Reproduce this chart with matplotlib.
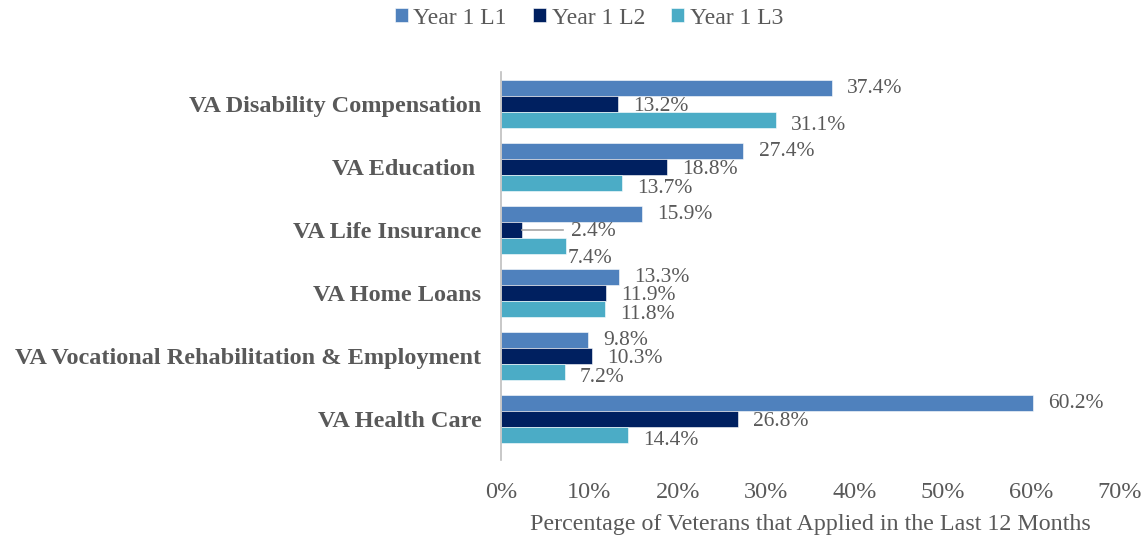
import numpy as np
import matplotlib
matplotlib.use("Agg")
import matplotlib.pyplot as plt
from matplotlib.ticker import FuncFormatter

plt.rcParams['font.family'] = ['Liberation Serif', 'DejaVu Serif']

categories = ['VA Disability Compensation', 'VA Education ', 'VA Life Insurance',
              'VA Home Loans', 'VA Vocational Rehabilitation & Employment', 'VA Health Care']
series = ['Year 1 L1', 'Year 1 L2', 'Year 1 L3']
l1 = [37.4, 27.4, 15.9, 13.3, 9.8, 60.2]
l2 = [13.2, 18.8, 2.4, 11.9, 10.3, 26.8]
l3 = [31.1, 13.7, 7.4, 11.8, 7.2, 14.4]
colors = ['#4F81BD', '#002060', '#4BACC6']
gray = '#595959'

fig = plt.figure(figsize=(11.45, 5.35), dpi=100)
ax = fig.add_axes([0.4376, 0.140, 0.5405, 0.7254])

n = len(categories)
y = np.arange(n)[::-1]
h = 0.254
vfs = 15.5
for i, (vals, c, name) in enumerate(zip([l1, l2, l3], colors, series)):
    pos = y + h * (1 - i)
    bars = ax.barh(pos, np.array(vals) / 100, height=h, color=c, label=name,
                   edgecolor='white', linewidth=0.4)
    for j, (b, v) in enumerate(zip(bars, vals)):
        yc = b.get_y() + b.get_height() / 2
        xe = b.get_width()
        txt = f'{v:.1f}%'
        if i == 1 and v < 5:
            # short bar: leader line out to the label
            ax.plot([xe, xe + 0.046], [yc, yc], color='#A6A6A6', lw=1.2)
            ax.annotate(txt, (xe + 0.046, yc), xytext=(6, -1), textcoords='offset points',
                        va='center', ha='left', fontsize=vfs, color=gray)
        elif i == 2 and j == 2:
            ax.annotate(txt, (xe, yc), xytext=(1, -9), textcoords='offset points',
                        va='center', ha='left', fontsize=vfs, color=gray)
        else:
            dy = [0, -1.5, -3.5][i]
            ax.annotate(txt, (xe, yc), xytext=(11, dy), textcoords='offset points',
                        va='center', ha='left', fontsize=vfs, color=gray)

ax.set_xlim(0, 0.7)
ax.set_ylim(-0.65, 5.51)
ax.set_yticks(y)
ax.set_yticklabels(categories, fontsize=17.5, fontweight='bold', color=gray)
ax.set_xticks(np.arange(0, 0.71, 0.1))
ax.xaxis.set_major_formatter(FuncFormatter(lambda v, p: f'{v * 100:.0f}%'))
ax.tick_params(axis='x', length=0, pad=16, labelsize=17.5, labelcolor=gray)
ax.tick_params(axis='y', length=0, pad=14)
for s in ['top', 'right', 'bottom']:
    ax.spines[s].set_visible(False)
ax.spines['left'].set_color('#BFBFBF')
ax.spines['left'].set_linewidth(1.2)
ax.set_xlabel('Percentage of Veterans that Applied in the Last 12 Months',
              fontsize=17.3, color=gray, labelpad=8)

fig.legend(loc='center', bbox_to_anchor=(589 / 1145, 1 - 18 / 535), ncol=3, frameon=False,
           fontsize=17, labelcolor=gray, handlelength=0.55, handleheight=0.55,
           handletextpad=0.25, columnspacing=1.1)

fig.savefig('out.png', dpi=100)
